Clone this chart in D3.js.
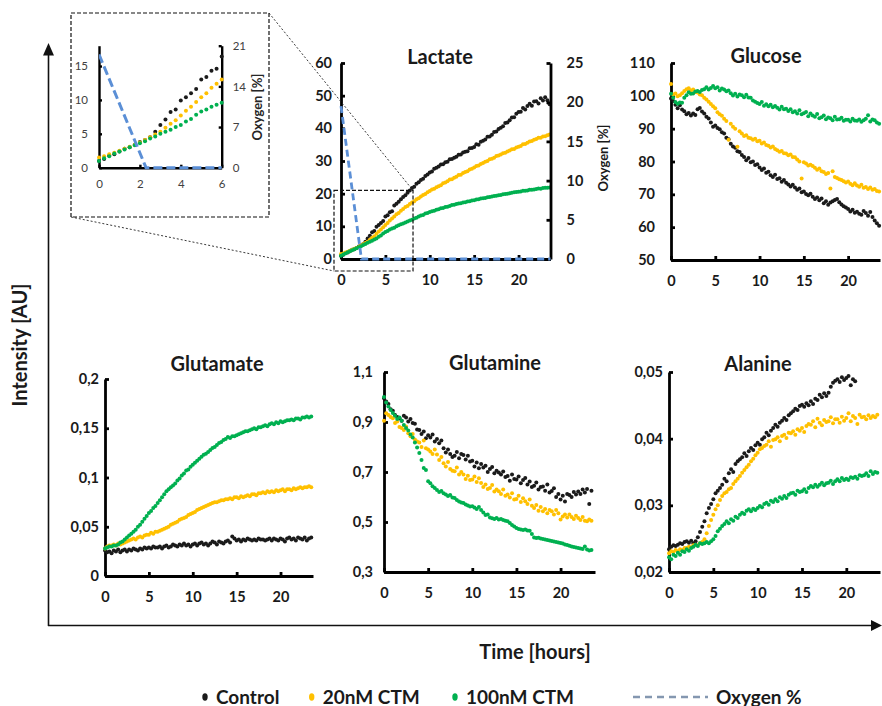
<!DOCTYPE html>
<html>
<head>
<meta charset="utf-8">
<script src="https://cdn.jsdelivr.net/npm/d3@7"></script>
<style>
  body { margin: 0; background: #fff; }
  svg { display: block; }
</style>
</head>
<body>
<svg id="chart" width="882" height="706"></svg>
<script>
// ---------- sampling times (hours) shared by every series ----------
const hours = [0,0.25,0.5,0.75,1,1.25,1.5,1.75,2,2.25,2.5,2.75,3,3.25,3.5,3.75,4,4.25,4.5,4.75,
  5,5.25,5.5,5.75,6,6.25,6.5,6.75,7,7.25,7.5,7.75,8,8.25,8.5,8.75,9,9.25,9.5,9.75,
  10,10.25,10.5,10.75,11,11.25,11.5,11.75,12,12.25,12.5,12.75,13,13.25,13.5,13.75,14,14.25,14.5,14.75,
  15,15.25,15.5,15.75,16,16.25,16.5,16.75,17,17.25,17.5,17.75,18,18.25,18.5,18.75,19,19.25,19.5,19.75,
  20,20.25,20.5,20.75,21,21.25,21.5,21.75,22,22.25,22.5,22.75,23,23.25,23.5];

const seriesNames = ["Control", "20nM CTM", "100nM CTM"];
const seriesColors = ["#1b1b1b", "#FFC000", "#00B050"];
const oxygenColor = "#5b8fd6";

// ---------- Lactate ----------
const lactateControl = [1.0,1.3,1.8,2.0, 2.4,2.8,3.0,3.4,
  3.8,4.1,4.5,5.3, 6.3,7.1,8.2,8.6,
  9.9,10.4,11.0,11.6, 13.0,13.4,14.3,14.6,
  16.4,16.9,17.5,18.3, 19.0,19.5,20.3,21.0,
  21.7,22.1,23.0,23.5, 24.2,24.6,25.4,25.9,
  26.5,26.8,27.6,27.9, 28.3,28.9,29.0,29.6,
  29.8,30.5,30.6,31.0, 31.3,31.9,32.0,32.6,
  32.8,33.0,33.9,34.0, 34.3,35.1,35.0,35.9,
  36.2,36.6,37.4,37.5, 38.0,38.9,39.0,39.8,
  40.2,40.6,41.6,41.8, 42.5,43.3,43.4,44.5,
  45.0,45.1,46.2,45.8, 46.8,47.5,46.9,48.2,
  48.3,47.6,49.2,48.5, 49.5,48.6,47.4];
const lactate20nM = [1.5,1.7,2.0,2.2, 2.5,2.8,3.1,3.4,
  3.7,4.1,4.5,4.9, 5.3,5.9,6.5,7.0,
  7.7,8.4,9.0,9.7, 10.4,11.0,11.8,12.4,
  13.0,13.7,14.1,14.8, 15.3,15.9,16.2,16.8,
  17.3,17.7,18.3,18.6, 19.1,19.6,19.9,20.4,
  20.8,21.3,21.5,22.0, 22.3,22.6,23.2,23.4,
  23.8,24.3,24.4,24.9, 25.2,25.7,25.8,26.3,
  26.6,26.9,27.4,27.6, 28.0,28.5,28.6,29.1,
  29.4,29.8,30.0,30.5, 30.7,31.0,31.5,31.7,
  32.0,32.4,32.5,32.9, 33.2,33.6,33.7,34.1,
  34.4,34.6,35.1,35.2, 35.6,36.0,36.1,36.5,
  36.7,37.1,37.1,37.5, 37.6,37.9,38.1];
const lactate100nM = [1.0,1.4,1.7,2.1, 2.4,2.7,3.0,3.3,
  3.6,3.9,4.3,4.6, 5.0,5.3,5.6,6.0,
  6.3,6.8,7.2,7.8, 8.3,8.6,9.0,9.3,
  9.6,10.0,10.3,10.6, 10.9,11.2,11.5,11.8,
  12.0,12.4,12.6,13.0, 13.3,13.5,13.9,14.1,
  14.4,14.6,14.8,15.1, 15.2,15.5,15.6,15.9,
  16.0,16.2,16.5,16.6, 16.8,17.0,17.1,17.3,
  17.4,17.6,17.7,17.9, 18.0,18.2,18.3,18.5,
  18.6,18.7,18.9,19.0, 19.1,19.3,19.4,19.5,
  19.6,19.8,19.9,20.0, 20.1,20.3,20.4,20.5,
  20.6,20.7,20.9,20.9, 21.0,21.2,21.2,21.3,
  21.4,21.6,21.5,21.7, 21.8,21.8,21.9];

// dissolved oxygen (%) during the lactate run
const oxygenHours = [0, 2.3, 23.6];
const oxygenPercent = [19.5, 0, 0];

// ---------- Glucose ----------
const glucoseControl = [99.2,98.4,97.3,96.2, 97.1,95.8,95.3,94.4,
  94.8,94.0,94.6,94.2, 95.9,96.3,95.2,94.6,
  93.6,93.1,91.9,90.6, 91.0,90.2,89.8,88.9,
  88.5,87.2,86.8,85.4, 84.6,84.2,83.1,82.9,
  82.0,81.4,80.4,81.1, 79.8,80.0,78.9,79.2,
  78.2,77.4,77.9,76.6, 76.9,75.8,75.3,76.0,
  74.7,74.9,73.8,74.4, 73.5,73.0,72.4,72.9,
  72.1,71.4,71.8,70.6, 70.9,70.1,69.7,70.2,
  69.3,68.6,69.0,68.2, 68.7,67.3,67.9,66.8,
  67.5,67.9,68.3,68.6, 67.6,66.9,66.4,66.0,
  65.5,64.8,65.3,64.4, 64.7,64.1,63.8,64.9,
  64.3,63.5,64.6,63.1, 62.0,61.2,60.4];
const glucose20nM = [103.6,100.4,100.7,99.9, 100.2,100.8,101.5,102.0,
  102.3,101.6,101.9,101.2, 101.0,100.4,100.2,99.4,
  98.9,98.2,97.5,96.8, 96.2,95.0,94.4,93.9,
  93.0,92.3,86.6,91.5, 90.6,90.0,84.5,89.2,
  88.5,87.8,88.0,87.2, 87.1,86.6,86.9,86.2,
  86.3,85.5,85.8,85.0, 84.8,84.3,84.6,83.8,
  83.4,83.0,83.2,82.5, 82.4,81.9,82.1,81.4,
  81.3,80.6,80.0,74.8, 79.8,79.4,78.8,79.0,
  78.6,78.1,77.5,77.9, 77.0,76.8,76.2,76.5,
  71.8,77.0,75.3,75.0, 74.6,74.4,74.0,73.6,
  73.9,73.2,72.8,73.4, 72.7,72.3,72.9,72.0,
  72.2,71.6,72.1,71.4, 71.6,71.0,70.9];
const glucose100nM = [100.6,99.4,98.1,97.6, 98.0,97.9,99.4,100.2,
  101.1,100.6,100.7,101.3, 101.5,101.2,101.8,102.0,
  102.6,101.9,102.4,103.0, 102.3,102.6,101.6,102.2,
  101.9,101.4,101.6,100.8, 100.1,100.6,99.8,100.4,
  100.2,99.6,100.3,99.5, 99.4,98.6,98.2,97.8,
  97.5,98.1,97.0,97.4, 96.8,97.3,96.5,96.9,
  96.4,95.8,96.7,95.9, 96.1,95.4,95.9,95.0,
  95.3,94.6,95.6,94.4, 94.7,95.1,93.8,94.6,
  94.0,93.6,94.5,93.2, 93.5,94.0,92.9,93.4,
  93.2,92.6,93.6,92.8, 92.9,93.3,92.4,92.7,
  92.7,92.2,93.0,92.5, 92.4,92.8,92.1,92.6,
  93.0,94.1,92.2,92.8, 92.6,91.9,91.5];

// ---------- Glutamate ----------
const glutamateControl = [0.026,0.024,0.025,0.023, 0.026,0.025,0.027,0.024,
  0.026,0.027,0.025,0.027, 0.026,0.028,0.027,0.026,
  0.028,0.027,0.029,0.028, 0.029,0.028,0.030,0.029,
  0.029,0.030,0.028,0.030, 0.031,0.029,0.030,0.032,
  0.031,0.030,0.032,0.031, 0.033,0.031,0.032,0.030,
  0.032,0.033,0.031,0.033, 0.034,0.032,0.033,0.031,
  0.033,0.035,0.034,0.032, 0.035,0.034,0.033,0.035,
  0.036,0.034,0.040,0.038, 0.036,0.037,0.035,0.037,
  0.036,0.038,0.037,0.036, 0.037,0.036,0.038,0.037,
  0.037,0.036,0.037,0.038, 0.036,0.038,0.037,0.036,
  0.038,0.037,0.035,0.038, 0.039,0.037,0.038,0.036,
  0.039,0.038,0.037,0.039, 0.036,0.038,0.039];
const glutamate20nM = [0.028,0.030,0.031,0.031, 0.032,0.031,0.033,0.032,
  0.033,0.034,0.035,0.036, 0.037,0.038,0.037,0.039,
  0.040,0.039,0.041,0.042, 0.042,0.044,0.043,0.045,
  0.045,0.046,0.047,0.048, 0.049,0.050,0.052,0.053,
  0.054,0.055,0.057,0.058, 0.059,0.060,0.062,0.063,
  0.064,0.065,0.067,0.068, 0.069,0.070,0.071,0.072,
  0.073,0.074,0.075,0.075, 0.076,0.077,0.077,0.078,
  0.078,0.079,0.078,0.080, 0.080,0.079,0.081,0.080,
  0.081,0.082,0.081,0.083, 0.083,0.082,0.084,0.084,
  0.085,0.084,0.086,0.085, 0.086,0.085,0.087,0.086,
  0.087,0.088,0.086,0.088, 0.088,0.087,0.089,0.088,
  0.089,0.090,0.089,0.090, 0.090,0.091,0.090];
const glutamate100nM = [0.028,0.029,0.030,0.030, 0.031,0.031,0.032,0.034,
  0.035,0.037,0.039,0.041, 0.043,0.045,0.047,0.050,
  0.052,0.055,0.058,0.061, 0.064,0.066,0.069,0.071,
  0.074,0.077,0.080,0.083, 0.086,0.088,0.090,0.092,
  0.094,0.097,0.099,0.102, 0.104,0.107,0.108,0.111,
  0.113,0.115,0.117,0.119, 0.121,0.123,0.124,0.126,
  0.128,0.130,0.131,0.133, 0.135,0.136,0.138,0.139,
  0.141,0.140,0.142,0.142, 0.143,0.144,0.145,0.146,
  0.147,0.147,0.148,0.149, 0.150,0.149,0.151,0.151,
  0.152,0.153,0.152,0.154, 0.155,0.154,0.156,0.155,
  0.157,0.156,0.157,0.158, 0.158,0.159,0.158,0.160,
  0.160,0.159,0.161,0.161, 0.162,0.161,0.162];

// ---------- Glutamine ----------
const glutamineControl = [0.995,0.982,0.972,0.951, 0.945,0.928,0.920,0.915,
  0.905,0.925,0.918,0.902, 0.912,0.896,0.893,0.870,
  0.868,0.852,0.862,0.835, 0.847,0.838,0.850,0.822,
  0.832,0.815,0.826,0.795, 0.778,0.790,0.772,0.760,
  0.765,0.780,0.755,0.772, 0.768,0.750,0.765,0.742,
  0.745,0.722,0.738,0.715, 0.732,0.718,0.725,0.700,
  0.712,0.720,0.695,0.705, 0.698,0.690,0.702,0.680,
  0.684,0.665,0.690,0.672, 0.670,0.682,0.655,0.668,
  0.676,0.650,0.662,0.640, 0.645,0.658,0.630,0.640,
  0.642,0.625,0.650,0.618, 0.624,0.635,0.600,0.612,
  0.590,0.605,0.582,0.612, 0.608,0.600,0.620,0.610,
  0.622,0.612,0.630,0.618, 0.632,0.572,0.625];
const glutamine20nM = [0.905,0.935,0.928,0.920, 0.915,0.896,0.902,0.880,
  0.876,0.868,0.882,0.855, 0.843,0.852,0.830,0.822,
  0.818,0.800,0.826,0.795, 0.790,0.782,0.772,0.790,
  0.770,0.748,0.760,0.735, 0.722,0.740,0.712,0.705,
  0.703,0.718,0.690,0.700, 0.690,0.672,0.685,0.668,
  0.670,0.682,0.660,0.675, 0.656,0.640,0.650,0.632,
  0.636,0.648,0.622,0.630, 0.623,0.612,0.630,0.605,
  0.610,0.598,0.615,0.590, 0.592,0.605,0.580,0.595,
  0.583,0.572,0.590,0.565, 0.556,0.568,0.545,0.560,
  0.543,0.552,0.535,0.548, 0.543,0.530,0.548,0.535,
  0.510,0.522,0.530,0.518, 0.530,0.520,0.512,0.525,
  0.516,0.508,0.520,0.505, 0.503,0.510,0.505];
const glutamine100nM = [1.000,0.978,0.962,0.948, 0.936,0.925,0.912,0.918,
  0.905,0.888,0.876,0.866, 0.850,0.838,0.818,0.798,
  0.776,0.748,0.716,0.708, 0.663,0.655,0.643,0.636,
  0.628,0.620,0.624,0.615, 0.610,0.604,0.608,0.598,
  0.596,0.588,0.582,0.578, 0.576,0.570,0.566,0.562,
  0.563,0.558,0.552,0.560, 0.548,0.538,0.528,0.530,
  0.518,0.515,0.512,0.516, 0.510,0.512,0.508,0.505,
  0.503,0.496,0.488,0.482, 0.476,0.472,0.470,0.468,
  0.470,0.466,0.465,0.452, 0.438,0.436,0.437,0.434,
  0.432,0.430,0.428,0.426, 0.424,0.422,0.420,0.418,
  0.416,0.414,0.410,0.408, 0.405,0.402,0.400,0.398,
  0.396,0.394,0.392,0.402, 0.390,0.386,0.388];

// ---------- Alanine ----------
const alanineControl = [0.0234,0.0238,0.0240,0.0239, 0.0241,0.0243,0.0242,0.0245,
  0.0246,0.0244,0.0247,0.0243, 0.0246,0.0252,0.0260,0.0268,
  0.0276,0.0288,0.0296,0.0302, 0.0309,0.0318,0.0322,0.0326,
  0.0331,0.0340,0.0336,0.0348, 0.0354,0.0350,0.0362,0.0366,
  0.0369,0.0372,0.0378,0.0374, 0.0381,0.0386,0.0383,0.0390,
  0.0394,0.0391,0.0399,0.0402, 0.0409,0.0405,0.0412,0.0416,
  0.0421,0.0418,0.0424,0.0427, 0.0431,0.0428,0.0435,0.0438,
  0.0441,0.0445,0.0443,0.0449, 0.0451,0.0448,0.0453,0.0450,
  0.0456,0.0452,0.0460,0.0458, 0.0466,0.0462,0.0468,0.0464,
  0.0469,0.0478,0.0484,0.0487, 0.0489,0.0485,0.0492,0.0488,
  0.0491,0.0494,0.0480,0.0489, 0.0486];
const alanine20nM = [0.0228,0.0231,0.0230,0.0233, 0.0231,0.0234,0.0233,0.0236,
  0.0236,0.0238,0.0237,0.0240, 0.0241,0.0240,0.0243,0.0245,
  0.0249,0.0258,0.0269,0.0278, 0.0286,0.0294,0.0300,0.0308,
  0.0314,0.0318,0.0320,0.0324, 0.0326,0.0332,0.0336,0.0340,
  0.0344,0.0349,0.0353,0.0357, 0.0361,0.0366,0.0370,0.0375,
  0.0379,0.0384,0.0386,0.0389, 0.0391,0.0396,0.0388,0.0398,
  0.0399,0.0402,0.0396,0.0404, 0.0406,0.0401,0.0409,0.0408,
  0.0411,0.0406,0.0414,0.0412, 0.0416,0.0410,0.0419,0.0422,
  0.0421,0.0426,0.0417,0.0430, 0.0424,0.0420,0.0428,0.0425,
  0.0426,0.0432,0.0423,0.0429, 0.0429,0.0424,0.0433,0.0427,
  0.0431,0.0438,0.0426,0.0434, 0.0431,0.0422,0.0436,0.0432,
  0.0433,0.0429,0.0435,0.0431, 0.0434,0.0432,0.0436];
const alanine100nM = [0.0222,0.0219,0.0226,0.0224, 0.0229,0.0226,0.0231,0.0230,
  0.0234,0.0232,0.0236,0.0238, 0.0241,0.0239,0.0243,0.0242,
  0.0243,0.0245,0.0243,0.0246, 0.0249,0.0254,0.0261,0.0265,
  0.0269,0.0272,0.0276,0.0273, 0.0279,0.0277,0.0283,0.0281,
  0.0286,0.0289,0.0287,0.0292, 0.0294,0.0291,0.0295,0.0293,
  0.0296,0.0299,0.0297,0.0302, 0.0304,0.0301,0.0307,0.0305,
  0.0309,0.0306,0.0312,0.0310, 0.0314,0.0311,0.0316,0.0318,
  0.0319,0.0316,0.0322,0.0320, 0.0321,0.0324,0.0320,0.0326,
  0.0329,0.0327,0.0331,0.0328, 0.0331,0.0334,0.0330,0.0333,
  0.0334,0.0337,0.0332,0.0336, 0.0339,0.0336,0.0341,0.0338,
  0.0340,0.0338,0.0342,0.0341, 0.0343,0.0340,0.0345,0.0344,
  0.0345,0.0348,0.0344,0.0351, 0.0347,0.0350,0.0349];

// ---------- tick values ----------
const hourTicks = [0, 5, 10, 15, 20];
const lactateTicks = [0, 10, 20, 30, 40, 50, 60];
const oxygenTicks = [0, 5, 10, 15, 20, 25];
const glucoseTicks = [50, 60, 70, 80, 90, 100, 110];
const glutamateTicks = [0, 0.05, 0.1, 0.15, 0.2];
const glutamineTicks = [0.3, 0.5, 0.7, 0.9, 1.1];
const alanineTicks = [0.02, 0.03, 0.04, 0.05];
const insetHourTicks = [0, 2, 4, 6];
const insetLactateTicks = [0, 5, 10, 15];
const insetOxygenTicks = [0, 7, 14, 21];

// ---------- drawing ----------
const FONT = "Lato, 'Open Sans', 'DejaVu Sans', sans-serif";
const svg = d3.select("#chart").attr("font-family", FONT);
const commaDecimal = d => String(d).replace(".", ",");
const plain = d => String(d);
const TICK_FONT = 14.5;

function styleAxis(g, o) {
  g.attr("font-family", FONT).attr("font-size", null);
  g.select(".domain").attr("stroke", "#000").attr("stroke-width", o.width);
  g.selectAll(".tick line").attr("stroke", "#000").attr("stroke-width", o.width);
  g.selectAll(".tick text")
    .attr("fill", o.color || "#1a1a1a")
    .style("font-size", o.size + "px")
    .style("font-weight", o.weight || 700);
}

function drawDots(g, x, y, seriesList, r, keep) {
  seriesList.forEach((vals, si) => {
    const pts = vals.map((v, i) => [hours[i], v]).filter(d => !keep || keep(d[0]));
    g.append("g").attr("class", "series-" + si)
      .selectAll("circle").data(pts).join("circle")
      .attr("cx", d => x(d[0])).attr("cy", d => y(d[1]))
      .attr("r", r).attr("fill", seriesColors[si]);
  });
}

const panels = [
  { title: "Lactate", series: [lactateControl, lactate20nM, lactate100nM],
    yDomain: [0, 60], yTicks: lactateTicks, fmt: plain,
    left: 341, right: 550.5, top: 63, bottom: 259, xMax: 23.6, yPad: 9,
    titleX: 440, titleY: 64 },
  { title: "Glucose", series: [glucoseControl, glucose20nM, glucose100nM],
    yDomain: [50, 110], yTicks: glucoseTicks, fmt: plain,
    left: 671, right: 880, top: 63, bottom: 260, xMax: 23.6, yPad: 16,
    titleX: 766, titleY: 63 },
  { title: "Glutamate", series: [glutamateControl, glutamate20nM, glutamate100nM],
    yDomain: [0, 0.2], yTicks: glutamateTicks, fmt: commaDecimal,
    left: 105, right: 313, top: 379, bottom: 576, xMax: 23.7, yPad: 6,
    titleX: 217, titleY: 371 },
  { title: "Glutamine", series: [glutamineControl, glutamine20nM, glutamine100nM],
    yDomain: [0.3, 1.1], yTicks: glutamineTicks, fmt: commaDecimal,
    left: 384, right: 595, top: 372, bottom: 572, xMax: 23.9, yPad: 11,
    titleX: 495, titleY: 370 },
  { title: "Alanine", series: [alanineControl, alanine20nM, alanine100nM],
    yDomain: [0.02, 0.05], yTicks: alanineTicks, fmt: commaDecimal,
    left: 669, right: 880, top: 372, bottom: 572, xMax: 23.8, yPad: 6,
    titleX: 758, titleY: 371 }
];

const scalesByTitle = {};

panels.forEach(p => {
  const x = d3.scaleLinear().domain([0, p.xMax]).range([p.left, p.right]);
  const y = d3.scaleLinear().domain(p.yDomain).range([p.bottom, p.top]);
  scalesByTitle[p.title] = { x, y };
  const g = svg.append("g").attr("class", "panel");

  g.append("g").attr("transform", `translate(0,${p.bottom})`)
    .call(d3.axisBottom(x).tickValues(hourTicks).tickSizeInner(-4).tickSizeOuter(0)
      .tickPadding(16).tickFormat(plain))
    .call(a => styleAxis(a, { width: 2.8, size: TICK_FONT }));

  g.append("g").attr("transform", `translate(${p.left},0)`)
    .call(d3.axisLeft(y).tickValues(p.yTicks).tickSizeInner(-4).tickSizeOuter(0)
      .tickPadding(p.yPad).tickFormat(p.fmt))
    .call(a => styleAxis(a, { width: 2.8, size: TICK_FONT }));

  g.append("text").attr("x", p.titleX).attr("y", p.titleY)
    .attr("text-anchor", "middle").attr("font-size", 20).attr("font-weight", 700)
    .attr("fill", "#1a1a1a").text(p.title);

  drawDots(g, x, y, p.series, 2);
});

// ---------- Lactate: oxygen on the secondary axis ----------
const lac = scalesByTitle["Lactate"];
const yOxygen = d3.scaleLinear().domain([0, 25]).range([259, 63]);
svg.append("g").attr("transform", "translate(550.5,0)")
  .call(d3.axisRight(yOxygen).tickValues(oxygenTicks).tickSizeInner(-4).tickSizeOuter(0)
    .tickPadding(16).tickFormat(plain))
  .call(a => styleAxis(a, { width: 2.8, size: TICK_FONT }));

const oxygenPts = oxygenHours.map((h, i) => [h, oxygenPercent[i]]);
svg.append("path").datum(oxygenPts)
  .attr("fill", "none").attr("stroke", oxygenColor).attr("stroke-width", 2.8)
  .attr("stroke-dasharray", "7,4")
  .attr("d", d3.line().x(d => lac.x(d[0])).y(d => yOxygen(d[1])));

svg.append("text")
  .attr("transform", "translate(608,158) rotate(-90)")
  .attr("text-anchor", "middle").attr("font-size", 13).attr("font-weight", 700)
  .attr("fill", "#1a1a1a").text("Oxygen [%]");

// zoom window marking the first six hours
const zx0 = lac.x(0) - 7, zx1 = lac.x(8) + 1, zy0 = lac.y(21), zy1 = lac.y(0) + 12;
svg.append("rect").attr("x", zx0).attr("y", zy0).attr("width", zx1 - zx0).attr("height", zy1 - zy0)
  .attr("fill", "none").attr("stroke", "#111").attr("stroke-width", 1.2).attr("stroke-dasharray", "4,2");

// ---------- inset: first six hours of lactate ----------
const inset = { boxL: 71, boxT: 13, boxR: 269, boxB: 217, left: 99, right: 221.7, top: 45.7, bottom: 167.7 };
svg.append("rect").attr("x", inset.boxL).attr("y", inset.boxT)
  .attr("width", inset.boxR - inset.boxL).attr("height", inset.boxB - inset.boxT)
  .attr("fill", "#fff").attr("stroke", "#111").attr("stroke-width", 1.2).attr("stroke-dasharray", "4,2");

// connectors between window and inset
svg.append("line").attr("x1", inset.boxR).attr("y1", inset.boxT).attr("x2", zx1).attr("y2", zy0)
  .attr("stroke", "#222").attr("stroke-width", 0.9).attr("stroke-dasharray", "2,2");
svg.append("line").attr("x1", inset.boxL).attr("y1", inset.boxB).attr("x2", zx0).attr("y2", zy1)
  .attr("stroke", "#222").attr("stroke-width", 0.9).attr("stroke-dasharray", "2,2");

const ix = d3.scaleLinear().domain([0, 6]).range([inset.left, inset.right]);
const iy = d3.scaleLinear().domain([0, 18]).range([inset.bottom, inset.top]);
const iyO = d3.scaleLinear().domain([0, 21]).range([inset.bottom, inset.top]);
const ig = svg.append("g").attr("class", "inset");
const insetTickStyle = { width: 2.4, size: 11.5, weight: 400, color: "#404040" };

ig.append("g").attr("transform", `translate(0,${inset.bottom})`)
  .call(d3.axisBottom(ix).tickValues(insetHourTicks).tickSizeInner(-3).tickSizeOuter(0)
    .tickPadding(12).tickFormat(plain))
  .call(a => styleAxis(a, insetTickStyle));
ig.append("g").attr("transform", `translate(${inset.left},0)`)
  .call(d3.axisLeft(iy).tickValues(insetLactateTicks).tickSizeInner(-3).tickSizeOuter(0)
    .tickPadding(11).tickFormat(plain))
  .call(a => styleAxis(a, insetTickStyle));
ig.append("g").attr("transform", `translate(${inset.right},0)`)
  .call(d3.axisRight(iyO).tickValues(insetOxygenTicks).tickSizeInner(-3).tickSizeOuter(0)
    .tickPadding(11).tickFormat(plain))
  .call(a => styleAxis(a, insetTickStyle));

ig.append("text").attr("transform", "translate(262,107) rotate(-90)")
  .attr("text-anchor", "middle").attr("font-size", 13).attr("font-weight", 700)
  .attr("fill", "#262626").text("Oxygen [%]");

drawDots(ig, ix, iy, [lactateControl, lactate20nM, lactate100nM], 2, h => h <= 6);

svg.append("defs").append("clipPath").attr("id", "inset-clip")
  .append("rect").attr("x", inset.left).attr("y", inset.top - 5)
  .attr("width", inset.right - inset.left).attr("height", inset.bottom - inset.top + 10);
ig.append("path").datum(oxygenPts).attr("clip-path", "url(#inset-clip)")
  .attr("fill", "none").attr("stroke", oxygenColor).attr("stroke-width", 3)
  .attr("stroke-dasharray", "9,4")
  .attr("d", d3.line().x(d => ix(d[0])).y(d => iyO(d[1])));

// ---------- overall axes ----------
svg.append("line").attr("x1", 48.5).attr("y1", 626).attr("x2", 48.5).attr("y2", 54)
  .attr("stroke", "#111").attr("stroke-width", 1.6);
svg.append("path").attr("d", "M43,55.5L54,55.5L48.5,43Z").attr("fill", "#111");
svg.append("line").attr("x1", 48).attr("y1", 625.5).attr("x2", 872).attr("y2", 625.5)
  .attr("stroke", "#111").attr("stroke-width", 1.6);
svg.append("path").attr("d", "M871,620L871,631L882,625.5Z").attr("fill", "#111");

svg.append("text").attr("transform", "translate(27,345) rotate(-90)")
  .attr("text-anchor", "middle").attr("font-size", 20).attr("font-weight", 700)
  .attr("fill", "#1a1a1a").text("Intensity [AU]");
svg.append("text").attr("x", 535).attr("y", 659)
  .attr("text-anchor", "middle").attr("font-size", 20).attr("font-weight", 700)
  .attr("fill", "#1a1a1a").text("Time [hours]");

// ---------- legend ----------
const legendX = [205, 311.7, 455];
const lg = svg.append("g").attr("class", "legend");
seriesNames.forEach((name, i) => {
  lg.append("ellipse").attr("cx", legendX[i]).attr("cy", 697).attr("rx", 2.7).attr("ry", 3.7)
    .attr("fill", seriesColors[i]);
  lg.append("text").attr("x", legendX[i] + 11).attr("y", 703.5)
    .attr("font-size", 19).attr("font-weight", 700).attr("fill", "#1a1a1a").text(name);
});
lg.append("line").attr("x1", 633).attr("x2", 708).attr("y1", 697).attr("y2", 697)
  .attr("stroke", "#8497b0").attr("stroke-width", 2.5).attr("stroke-dasharray", "7,5");
lg.append("text").attr("x", 716).attr("y", 703.5)
  .attr("font-size", 19).attr("font-weight", 700).attr("fill", "#1a1a1a").text("Oxygen %");
</script>
</body>
</html>
